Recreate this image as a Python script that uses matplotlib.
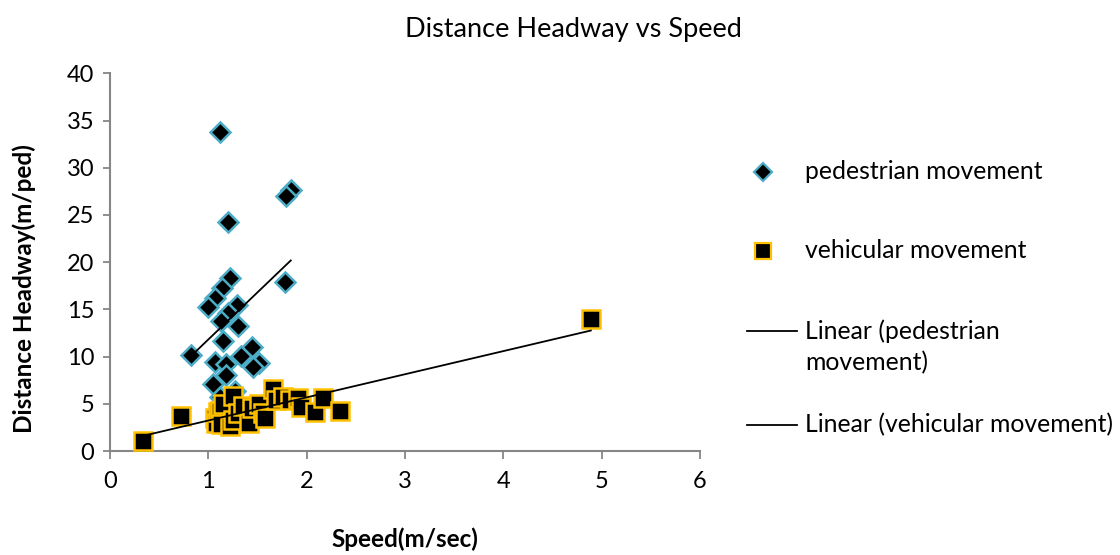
import matplotlib.pyplot as plt
import numpy as np
from matplotlib.lines import Line2D

plt.rcParams['font.family'] = ['Lato', 'DejaVu Sans']

# pedestrian movement: speed (m/sec) vs distance headway (m/ped)
ped_speed = [1.12, 1.84, 1.79, 1.20, 1.78, 1.22, 1.14, 1.07, 1.00, 1.29,
             1.20, 1.13, 1.30, 1.15, 0.83, 1.45, 1.33, 1.07, 1.52, 1.46,
             1.18, 1.18, 1.05, 1.27, 1.12]
ped_headway = [33.8, 27.6, 27.0, 24.3, 17.9, 18.3, 17.3, 16.2, 15.3, 15.5,
               14.6, 13.8, 13.2, 11.7, 10.2, 11.0, 10.1, 9.4, 9.3, 8.9,
               9.2, 8.1, 7.1, 6.4, 5.7]

# vehicular movement
veh_speed = [0.34, 0.72, 1.07, 1.08, 1.10, 1.12, 1.13, 1.15, 1.22, 1.25,
             1.25, 1.30, 1.35, 1.42, 1.45, 1.52, 1.56, 1.58, 1.66, 1.69,
             1.76, 1.83, 1.91, 1.94, 2.09, 2.17, 2.34, 4.89]
veh_headway = [1.1, 3.7, 3.5, 3.0, 4.2, 4.3, 2.9, 5.0, 2.7, 5.8,
               3.3, 4.0, 4.8, 3.0, 4.6, 5.0, 4.0, 3.5, 6.6, 5.4,
               5.7, 5.4, 5.6, 4.7, 4.1, 5.6, 4.3, 14.0]

x_ticks = [0, 1, 2, 3, 4, 5, 6]
y_ticks = [0, 5, 10, 15, 20, 25, 30, 35, 40]

legend_labels = ['pedestrian movement', 'vehicular movement',
                 'Linear (pedestrian\nmovement)', 'Linear (vehicular movement)']

ped_edge = '#4BACC6'
veh_edge = '#FFC000'
axis_grey = '#868686'

W, H = 1120, 555
fig = plt.figure(figsize=(W / 100, H / 100), dpi=100)
ax = fig.add_axes([0.098, 0.187, 0.527, 0.681])

# scatter series
ax.plot(ped_speed, ped_headway, linestyle='none', marker='D', markersize=10,
        markerfacecolor='black', markeredgecolor=ped_edge, markeredgewidth=1.8,
        zorder=3)
ax.plot(veh_speed, veh_headway, linestyle='none', marker='s', markersize=13,
        markerfacecolor='black', markeredgecolor=veh_edge, markeredgewidth=1.8,
        zorder=4)

# linear trend lines (least squares, like Excel)
for xs, ys in [(ped_speed, ped_headway), (veh_speed, veh_headway)]:
    xs = np.array(xs)
    k, b = np.polyfit(xs, ys, 1)
    xx = np.array([xs.min(), xs.max()])
    ax.plot(xx, k * xx + b, color='black', linewidth=1.3, zorder=5)

ax.set_xlim(0, 6)
ax.set_ylim(0, 40)
ax.set_xticks(x_ticks)
ax.set_yticks(y_ticks)
ax.tick_params(axis='both', labelsize=17, color=axis_grey, width=1.3,
               direction='out')
ax.tick_params(axis='x', length=6, pad=8)
ax.tick_params(axis='y', length=5, pad=6)
for side in ['top', 'right']:
    ax.spines[side].set_visible(False)
for side in ['left', 'bottom']:
    ax.spines[side].set_color(axis_grey)
    ax.spines[side].set_linewidth(1.5)

ax.set_xlabel('Speed(m/sec)', fontsize=17.5, fontweight='bold')
ax.set_ylabel('Distance Headway(m/ped)', fontsize=17.5, fontweight='bold')
ax.xaxis.set_label_coords(0.5, -(539 - 451) / 378, transform=ax.transAxes)
ax.yaxis.set_label_coords(-(110 - 24) / 590, (451 - 288) / 378,
                          transform=ax.transAxes)
ax.xaxis.label.set_va('center')
ax.yaxis.label.set_va('center')

fig.text(573 / W, 1 - 30 / H, 'Distance Headway vs Speed', fontsize=19.5,
         ha='center', va='center')

# legend on the right, laid out like the Excel one
def fx(px):
    return px / W

def fy(py):
    return 1 - py / H

fig.add_artist(Line2D([fx(763)], [fy(172)], transform=fig.transFigure,
                      linestyle='none', marker='D', markersize=9,
                      markerfacecolor='black', markeredgecolor=ped_edge,
                      markeredgewidth=1.6))
fig.add_artist(Line2D([fx(763)], [fy(251)], transform=fig.transFigure,
                      linestyle='none', marker='s', markersize=11,
                      markerfacecolor='black', markeredgecolor=veh_edge,
                      markeredgewidth=1.6))
for py in [331, 425]:
    fig.add_artist(Line2D([fx(747), fx(797)], [fy(py), fy(py)],
                          transform=fig.transFigure, color='black', linewidth=1.3))

text_rows = [172, 251, 331, 425]
for lab, py in zip(legend_labels, text_rows):
    for i, line in enumerate(lab.split('\n')):
        fig.text(fx(805), fy(py + i * 32), line, fontsize=17.8,
                 ha='left', va='center')

fig.savefig('out.png', dpi=100)
